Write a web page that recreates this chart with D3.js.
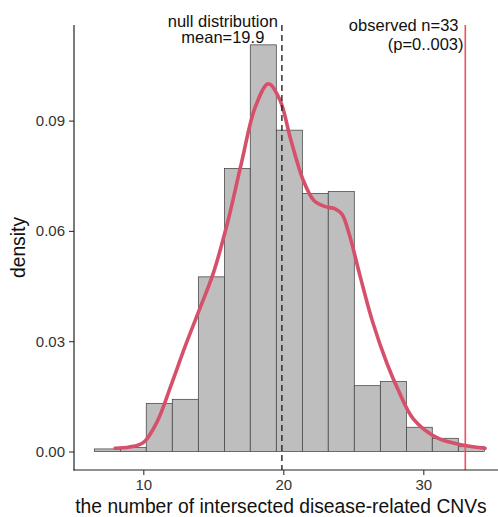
<!DOCTYPE html>
<html>
<head>
<meta charset="utf-8">
<script src="https://cdn.jsdelivr.net/npm/d3@7"></script>
<style>
  html, body { margin: 0; padding: 0; background: #fff; }
  svg { display: block; font-family: "Liberation Sans", Arial, Helvetica, sans-serif; }
</style>
</head>
<body>
<svg id="chart" width="498" height="517"></svg>
<script>
// ---- data ----
const binEdges = [6.5, 8.36, 10.21, 12.07, 13.93, 15.79, 17.64, 19.5, 21.36, 23.21, 25.07, 26.93, 28.79, 30.64, 32.5, 34.36];
const binDensity = [0.0007, 0.0011, 0.0131, 0.0142, 0.0475, 0.0770, 0.1106, 0.0874, 0.0702, 0.0707, 0.0179, 0.0190, 0.0066, 0.0036, 0.0013];
const curveX = [7.98, 9.0, 10.0, 11.0, 12.0, 13.0, 14.0, 15.0, 16.0, 17.0, 18.0, 18.93, 19.76, 20.5, 21.4, 22.2, 23.0, 23.7, 24.2, 24.7, 25.5, 26.4, 27.4, 28.2, 29.3, 31.0, 32.9, 34.41];
const curveY = [0.0009, 0.0012, 0.0024, 0.0082, 0.0182, 0.0287, 0.0385, 0.0485, 0.0620, 0.0783, 0.0937, 0.1000, 0.0956, 0.0853, 0.0740, 0.0682, 0.0666, 0.0660, 0.0645, 0.0592, 0.0475, 0.0350, 0.0240, 0.0168, 0.0088, 0.0037, 0.0017, 0.0009];
const nullMean = 19.9;
const observed = 33;
const yTicks = [0, 0.03, 0.06, 0.09];
const xTicks = [10, 20, 30];
const nullLabel = ["null distribution", "mean=19.9"];
const obsLabel = ["observed n=33", "(p=0..003)"];
const xTitle = "the number of intersected disease-related CNVs";
const yTitle = "density";

// ---- layout ----
const svg = d3.select("#chart");
const pLeft = 74, pTop = 25, pBottom = 470;
const x = d3.scaleLinear().domain([5.05, 35.75]).range([pLeft, pLeft + (35.75 - 5.05) * 14]);
const y = d3.scaleLinear().domain([-0.00503, 0.116]).range([pBottom, pTop]);

const bins = binDensity.map((d, i) => ({ x0: binEdges[i], x1: binEdges[i + 1], d }));

// bars
svg.append("g").selectAll("rect").data(bins).join("rect")
  .attr("x", b => x(b.x0))
  .attr("y", b => y(b.d))
  .attr("width", b => x(b.x1) - x(b.x0))
  .attr("height", b => y(0) - y(b.d))
  .attr("fill", "#bebebe")
  .attr("stroke", "#3a3a3a")
  .attr("stroke-width", 0.7);

// density curve
const pts = curveX.map((v, i) => [v, curveY[i]]);
svg.append("path")
  .datum(pts)
  .attr("d", d3.line().x(p => x(p[0])).y(p => y(p[1])).curve(d3.curveCatmullRom.alpha(0.5)))
  .attr("fill", "none")
  .attr("stroke", "#d6506b")
  .attr("stroke-width", 3.6)
  .attr("stroke-linecap", "round");

// mean dashed line
svg.append("line")
  .attr("x1", x(nullMean)).attr("x2", x(nullMean))
  .attr("y1", pTop).attr("y2", pBottom)
  .attr("stroke", "#222").attr("stroke-width", 1.4)
  .attr("stroke-dasharray", "6,4");

// observed line
svg.append("line")
  .attr("x1", x(observed)).attr("x2", x(observed))
  .attr("y1", pTop).attr("y2", pBottom)
  .attr("stroke", "#f24d5e").attr("stroke-width", 1.6);

// axes
const yAxis = d3.axisLeft(y).tickValues(yTicks).tickFormat(d3.format(".2f")).tickSize(5).tickPadding(4);
const gy = svg.append("g").attr("transform", `translate(${pLeft},0)`).call(yAxis);
gy.select(".domain").remove();
gy.selectAll(".tick line").attr("stroke", "#333").attr("stroke-width", 1.1);
gy.selectAll(".tick text").attr("font-size", 15).attr("fill", "#333").attr("font-family", "Liberation Sans, Arial, sans-serif");

const xAxis = d3.axisBottom(x).tickValues(xTicks).tickFormat(d3.format("d")).tickSize(5).tickPadding(4);
const gx = svg.append("g").attr("transform", `translate(0,${pBottom})`).call(xAxis);
gx.select(".domain").remove();
gx.selectAll(".tick line").attr("stroke", "#333").attr("stroke-width", 1.1);
gx.selectAll(".tick text").attr("font-size", 15).attr("fill", "#333").attr("font-family", "Liberation Sans, Arial, sans-serif");

svg.append("line").attr("x1", pLeft).attr("x2", pLeft).attr("y1", pTop).attr("y2", pBottom + 0.5)
  .attr("stroke", "#222").attr("stroke-width", 1.2);
svg.append("line").attr("x1", pLeft - 0.5).attr("x2", 498).attr("y1", pBottom).attr("y2", pBottom)
  .attr("stroke", "#222").attr("stroke-width", 1.2);

// axis titles
svg.append("text").attr("x", 281).attr("y", 513).attr("text-anchor", "middle")
  .attr("font-size", 19.3).attr("fill", "#111").text(xTitle);
svg.append("text").attr("transform", "translate(25,247.5) rotate(-90)").attr("text-anchor", "middle")
  .attr("font-size", 19.3).attr("fill", "#111").text(yTitle);

// annotations
svg.append("text").attr("x", 222.8).attr("y", 26.5).attr("text-anchor", "middle")
  .attr("font-size", 16.5).attr("fill", "#111").text(nullLabel[0]);
svg.append("text").attr("x", 222.8).attr("y", 43.3).attr("text-anchor", "middle")
  .attr("font-size", 16.5).attr("fill", "#111").text(nullLabel[1]);
svg.append("text").attr("x", 458.5).attr("y", 30.5).attr("text-anchor", "end")
  .attr("font-size", 16.5).attr("fill", "#111").text(obsLabel[0]);
svg.append("text").attr("x", 463.5).attr("y", 50).attr("text-anchor", "end")
  .attr("font-size", 16.5).attr("fill", "#111").text(obsLabel[1]);
</script>
</body>
</html>
